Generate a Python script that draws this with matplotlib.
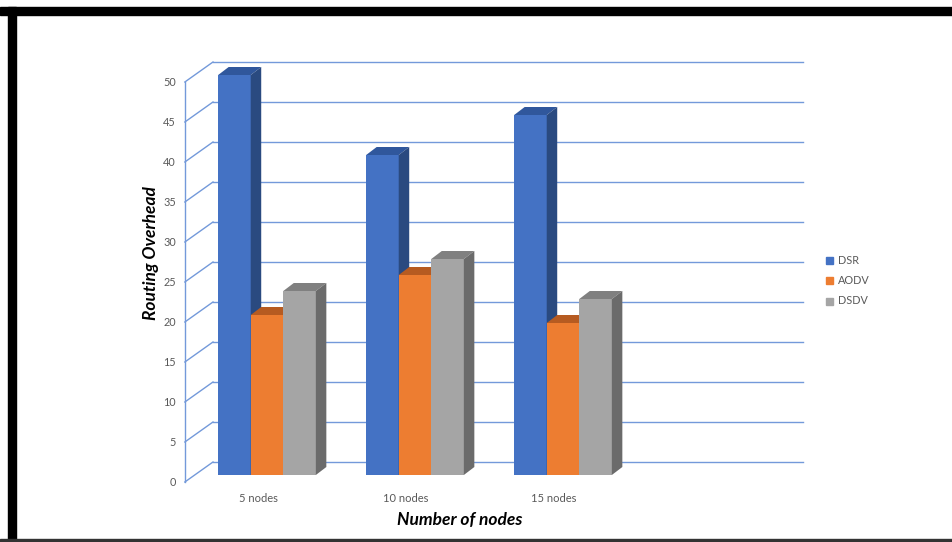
import matplotlib
matplotlib.use("Agg")
import matplotlib.pyplot as plt
from matplotlib.patches import Polygon, Rectangle

categories = ["5 nodes", "10 nodes", "15 nodes"]
series = ["DSR", "AODV", "DSDV"]
dsr = [50, 40, 45]
aodv = [20, 25, 19]
dsdv = [23, 27, 22]
y_ticks = [0, 5, 10, 15, 20, 25, 30, 35, 40, 45, 50]

front_colors = ["#4472C4", "#ED7D31", "#A5A5A5"]
top_colors = ["#30579C", "#B65B21", "#808080"]
side_colors = ["#2A4A80", "#A8531D", "#6B6B6B"]

plt.rcParams["font.family"] = ["Lato", "DejaVu Sans"]

W, H = 952, 542
fig = plt.figure(figsize=(W / 100, H / 100), dpi=100)
ax = fig.add_axes([0, 0, 1, 1])
# one x unit = 148 px, one y unit = 8 px; bar fronts sit on y=0
ax.set_xlim((0 - 267) / 148, (W - 267) / 148)
ax.set_ylim((475 - H) / 8, 475 / 8)
ax.axis("off")

grid_c = "#7399DA"
wall_x0, wall_x1 = -0.365, 3.62
axis_x = -0.555
back_dy, front_dy = 1.625, -0.875

# back wall gridlines + diagonal lines to the front axis
for v in y_ticks:
    ax.plot([wall_x0, wall_x1], [v + back_dy, v + back_dy], color=grid_c, lw=1, zorder=1)
    ax.plot([axis_x, wall_x0], [v + front_dy, v + back_dy], color=grid_c, lw=1, zorder=1)
    ax.text(axis_x - 0.06, v + front_dy, str(v), ha="right", va="center",
            fontsize=7.8, color="#595959")
ax.plot([axis_x, axis_x], [y_ticks[0] + front_dy, y_ticks[-1] + front_dy],
        color=grid_c, lw=1, zorder=1)

# bars with fake depth
bw = 0.22
ddx, ddy = 10.5 / 148, 1.0
for i, vals in enumerate([dsr, aodv, dsdv]):
    xs = [c + (i - 1) * bw for c in range(len(categories))]
    ax.bar(xs, vals, width=bw, color=front_colors[i], zorder=2 + i, linewidth=0)
    for x, v in zip(xs, vals):
        l, r = x - bw / 2, x + bw / 2
        ax.add_patch(Polygon([(l, v), (r, v), (r + ddx, v + ddy), (l + ddx, v + ddy)],
                             closed=True, color=top_colors[i], lw=0, zorder=2 + i))
        ax.add_patch(Polygon([(r, 0), (r + ddx, ddy), (r + ddx, v + ddy), (r, v)],
                             closed=True, color=side_colors[i], lw=0, zorder=2 + i))

for c, name in enumerate(categories):
    ax.text(c - 0.06, (475 - 498) / 8, name, ha="center", va="center",
            fontsize=8, color="#595959")

ax.text((460 - 267) / 148, (475 - 520) / 8, "Number of nodes", ha="center", va="center",
        fontsize=12.5, fontweight="bold", fontstyle="italic", color="black")
ax.text((151 - 267) / 148, (475 - 253) / 8, "Routing Overhead", ha="center", va="center",
        rotation=90, fontsize=12.5, fontweight="bold", fontstyle="italic", color="black")

# legend
for i, name in enumerate(series):
    ly = (475 - (260 + 20.5 * i)) / 8
    fig.patches.append(Rectangle((826 / W, 1 - (260 + 20.5 * i + 3.5) / H), 7 / W, 7 / H,
                                 transform=fig.transFigure, color=front_colors[i]))
    ax.text((838 - 267) / 148, ly, name, ha="left", va="center", fontsize=7.8, color="#595959")

# black frame
fig.patches.append(Rectangle((0, 1 - 15 / H), 1, 8 / H, transform=fig.transFigure,
                             color="black", zorder=10))
fig.patches.append(Rectangle((8 / W, 0), 8 / W, 1 - 7 / H, transform=fig.transFigure,
                             color="black", zorder=10))
fig.patches.append(Rectangle((0, 0), 1, 3 / H, transform=fig.transFigure,
                             color="#333333", zorder=10))

fig.savefig("out.png", dpi=100)
